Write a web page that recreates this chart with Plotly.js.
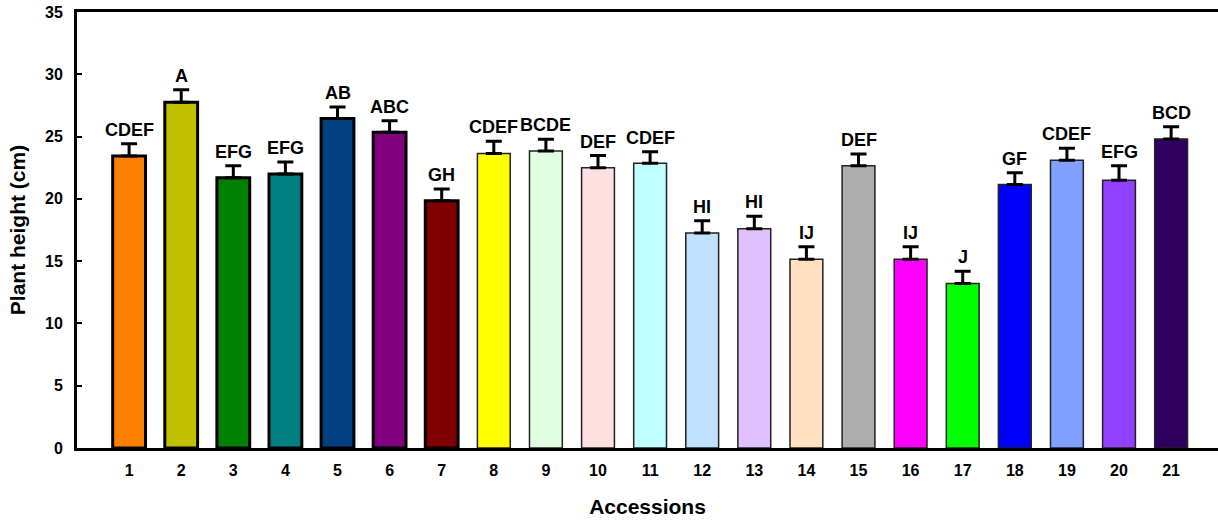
<!DOCTYPE html>
<html>
<head>
<meta charset="utf-8">
<script src="https://cdn.plot.ly/plotly-3.0.1.min.js"></script>
<style>html,body{margin:0;padding:0;background:#fff;overflow:hidden;}</style>
</head>
<body>
<div id="chart" style="width:1218px;height:522px;"></div>
<script>
const accessions = [1,2,3,4,5,6,7,8,9,10,11,12,13,14,15,16,17,18,19,20,21];
const heights = [23.45,27.75,21.7,22.0,26.45,25.35,19.85,23.65,23.85,22.5,22.85,17.25,17.6,15.15,22.65,15.15,13.2,21.15,23.1,21.5,24.8];
const errors = [0.97,1.0,0.96,0.95,0.92,0.93,0.95,0.98,0.94,0.98,0.94,0.99,1.0,1.0,0.95,1.0,0.99,0.94,0.96,1.15,0.98];
const letters = ["CDEF","A","EFG","EFG","AB","ABC","GH","CDEF","BCDE","DEF","CDEF","HI","HI","IJ","DEF","IJ","J","GF","CDEF","EFG","BCD"];
const colors = ["#FF8000","#C0C000","#008000","#008080","#004080","#800080","#800000","#FFFF00","#E0FFE0","#FFE0E0","#C0FFFF","#C0E0FF","#E0C0FF","#FFE0C0","#ADADAD","#FF00FF","#00FF00","#0000FF","#80A0FF","#9040FF","#300060"];
const outlineWidths = [3,3,3,3,3,3,3,1.5,1.5,1.5,1.5,1.5,1.5,1.5,1.5,1.5,1.5,1.5,1.5,1.5,1.5];
const outlineColors = accessions.map((a,i)=> outlineWidths[i] > 2 ? "#000000" : "#222222");

const font = "Liberation Sans, Arial, sans-serif";

const trace = {
  type: "bar",
  x: accessions,
  y: heights,
  width: 0.63,
  marker: {color: colors, line: {color: outlineColors, width: outlineWidths}},
  error_y: {type: "data", array: errors, arrayminus: accessions.map(()=>0), symmetric: false, visible: true, color: "#000", thickness: 3, width: 8},
  hoverinfo: "x+y"
};

const annotations = accessions.map((a,i)=>({
  x: a, y: heights[i] + errors[i], xref: "x", yref: "y",
  text: "<b>" + letters[i] + "</b>", showarrow: false,
  yanchor: "bottom", xanchor: "center", yshift: 2,
  font: {family: font, size: 18, color: "#000"}
}));

const layout = {
  width: 1218, height: 522,
  margin: {l: 77, r: 0, t: 12, b: 74},
  paper_bgcolor: "#fff", plot_bgcolor: "#fff",
  showlegend: false,
  bargap: 0.37,
  xaxis: {
    range: [0, 21.9], tickvals: accessions, ticktext: accessions.map(String),
    showline: true, linecolor: "#000", linewidth: 3, mirror: true,
    ticks: "", showgrid: false, zeroline: false,
    tickfont: {family: font, size: 16, color: "#000", weight: "bold"},
    ticklabelstandoff: 6,
    title: {text: "<b>Accessions</b>", font: {family: font, size: 21, color: "#000"}, standoff: 22},
    automargin: false
  },
  yaxis: {
    range: [0, 35], dtick: 5, tick0: 0,
    showline: true, linecolor: "#000", linewidth: 3, mirror: false,
    ticks: "inside", ticklen: 5, tickwidth: 2, tickcolor: "#000",
    showgrid: false, zeroline: false,
    tickfont: {family: font, size: 16, color: "#000", weight: "bold"},
    ticklabelstandoff: 8,
    title: {text: "<b>Plant height (cm)</b>", font: {family: font, size: 21, color: "#000"}, standoff: 14},
    automargin: false
  },
  annotations: annotations
};

Plotly.newPlot("chart", [trace], layout, {displayModeBar: false, staticPlot: true});
</script>
</body>
</html>
